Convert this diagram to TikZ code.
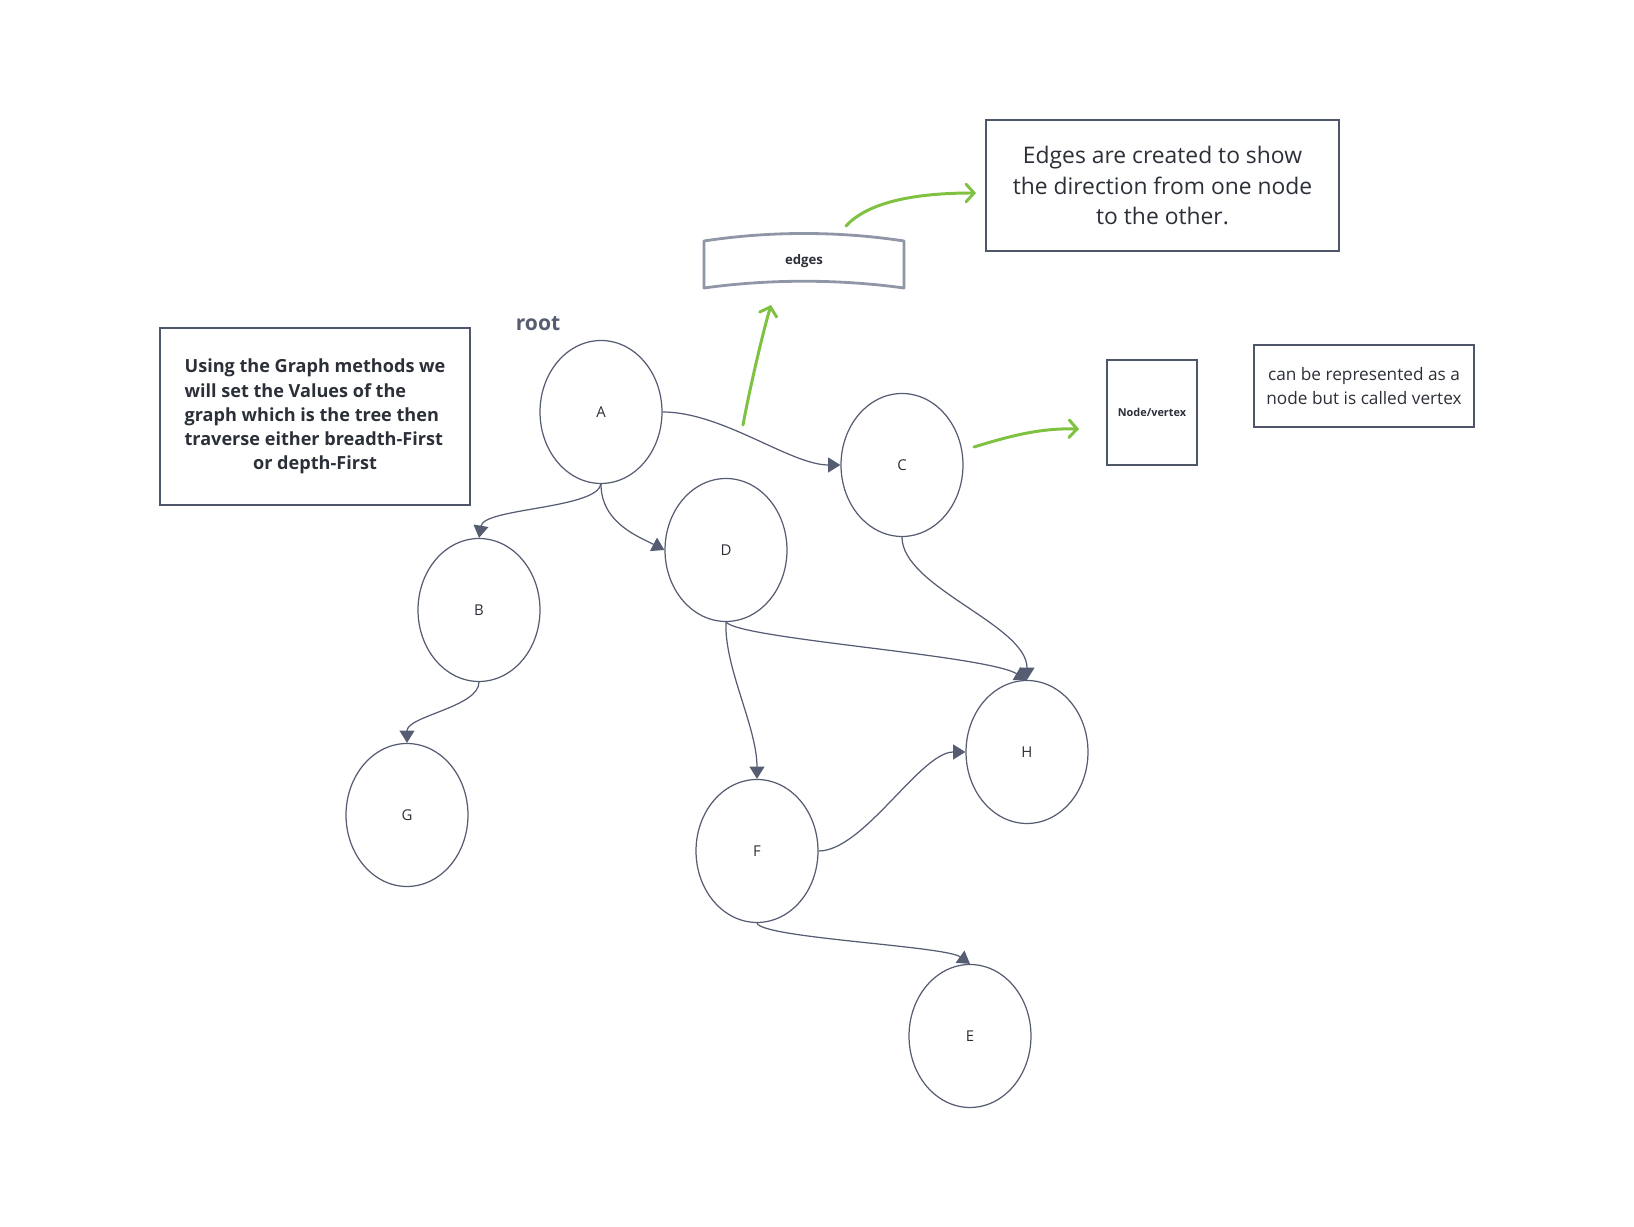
\documentclass[tikz,border=0pt]{standalone}
\usepackage{fontspec}
\setmainfont{Open Sans}
\usetikzlibrary{arrows.meta,shapes.geometric}
\definecolor{edgegray}{RGB}{86,93,114}
\definecolor{boxgray}{RGB}{79,86,106}
\definecolor{softgray}{RGB}{143,150,166}
\definecolor{hintgreen}{RGB}{127,194,65}
\definecolor{inkdark}{RGB}{43,47,56}
\begin{document}
\begin{tikzpicture}[x=0.02cm, y=0.02cm,
    vtx/.style={ellipse, draw=edgegray, line width=0.7pt, minimum width=2.44cm,
      minimum height=2.86cm, inner sep=0pt, font=\fontsize{8.5}{10}\selectfont, text=inkdark},
    link/.style={draw=edgegray, line width=0.7pt, -{Triangle[width=8.5pt,length=7pt]}},
    note/.style={draw=boxgray, line width=1.6pt, align=center, inner sep=0pt, text=inkdark},
    hint/.style={draw=hintgreen, line width=1.7pt, line cap=round,
      -{Straight Barb[length=4.5pt,width=10pt,line cap=round]}}]
  \useasboundingbox (0,0) rectangle (1634,1227);
  % graph vertices
  \foreach \n/\x/\y in {A/601/815, C/902/762, D/726/677, B/479/617,
      G/407/412, H/1027/475, F/757/376, E/970/191} {
    \node[vtx] (\n) at (\x,\y) {\n};
  }
  \node[font=\fontsize{12}{14}\selectfont\bfseries, text=edgegray] (root) at (538,903) {root};
  % edges between vertices
  \draw[link] (A.south) .. controls +(-5,-25) and +(5,30) .. (B.north);
  \draw[link] (A.south) .. controls +(0,-39) and +(-25,13) .. (D.west);
  \draw[link] (A.east) .. controls +(60,0) and +(-50,0) .. (C.west);
  \draw[link] (C.south) .. controls +(0,-50) and +(0,55) .. (H.north);
  \draw[link] (D.south) .. controls +(14,-17) and +(-42,25) .. (H.north);
  \draw[link] (D.south) .. controls +(-2,-45) and +(0,52) .. (F.north);
  \draw[link] (B.south) .. controls +(0,-25) and +(0,27) .. (G.north);
  \draw[link] (F.east) .. controls +(45,0) and +(-45,0) .. (H.west);
  \draw[link] (F.south) .. controls +(5,-15) and +(-25,18) .. (E.north);
  % explanation boxes
  \node[note, minimum width=6.2cm, minimum height=3.54cm,
    font=\fontsize{10.3}{13.8}\selectfont\bfseries] (methods) at (315,810.5)
    {\begin{tabular}{@{}l@{}}Using the Graph methods we\\ will set the Values of the\\
      graph which is the tree then\\ traverse either breadth-First\\
      \multicolumn{1}{@{}c@{}}{or depth-First}\end{tabular}};
  \node[note, minimum width=7.06cm, minimum height=2.62cm,
    font=\fontsize{13}{17.4}\selectfont] (direction) at (1162.5,1041.5)
    {Edges are created to show\\ the direction from one node\\ to the other.};
  \node[note, line width=0.8pt, minimum width=1.8cm, minimum height=2.1cm,
    font=\fontsize{6.2}{7}\selectfont\bfseries] (vertex) at (1152,814.5) {Node/vertex};
  \node[note, minimum width=4.4cm, minimum height=1.64cm,
    font=\fontsize{9.8}{13.6}\selectfont] (called) at (1364,841)
    {can be represented as a\\ node but is called vertex};
  % curved label for edges
  \node[font=\fontsize{7.5}{9}\selectfont\bfseries, text=inkdark] (edges) at (804,966) {edges};
  \draw[softgray, line width=1.6pt, line join=round] (704,939) -- (704,986)
    .. controls (770,996) and (838,996) .. (904,986) -- (904,939)
    .. controls (838,948) and (770,948) .. cycle;
  % green pointers
  \coordinate (g1s) at (846,1001);
  \coordinate (g1e) at (976,1034);
  \draw[hint] (g1s) .. controls (868,1025) and (915,1034) .. (g1e);
  \coordinate (g2s) at (743,802);
  \coordinate (g2e) at (771,922);
  \draw[hint] (g2s) .. controls (750,840) and (763,895) .. (g2e);
  \coordinate (g3s) at (974,780);
  \coordinate (g3e) at (1079,798);
  \draw[hint] (g3s) .. controls (1010,791) and (1040,799) .. (g3e);
\end{tikzpicture}
\end{document}
